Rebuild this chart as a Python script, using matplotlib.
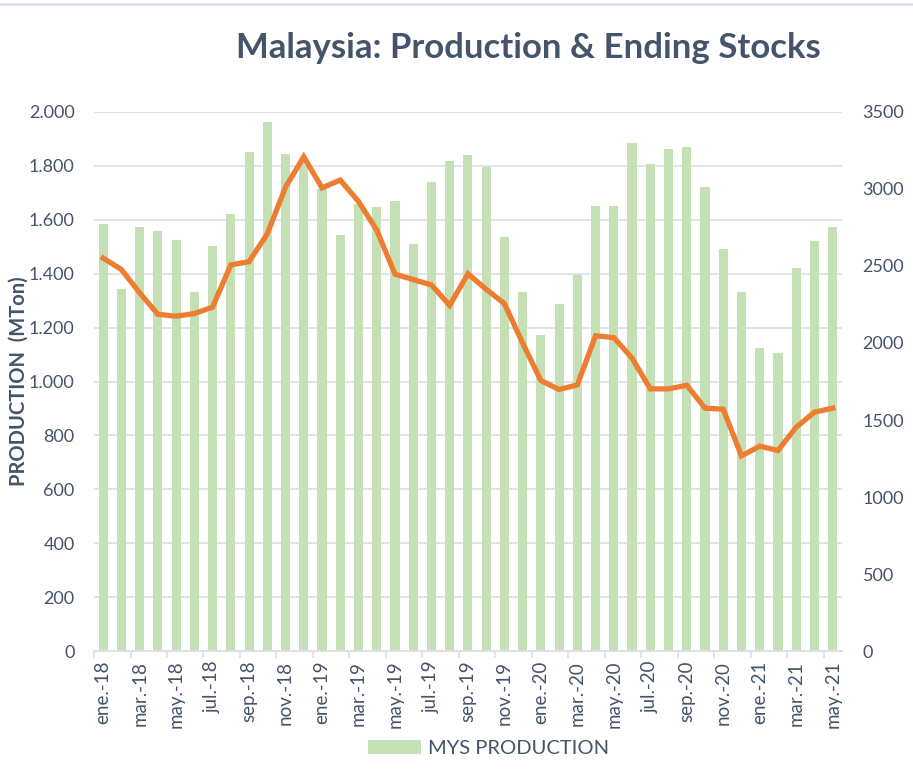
import matplotlib
matplotlib.use("Agg")
import matplotlib.pyplot as plt
from matplotlib.lines import Line2D
from matplotlib.ticker import FuncFormatter, FixedLocator

# months ene-18 .. may-21
MONTHS = ["ene", "feb", "mar", "abr", "may", "jun", "jul", "ago", "sep", "oct", "nov", "dic"]
labels = []
for yr in ["18", "19", "20", "21"]:
    for m in MONTHS:
        labels.append(f"{m}.-{yr}")
labels = labels[:41]

production = [1585, 1342, 1573, 1557, 1524, 1332, 1502, 1620, 1852, 1964,
              1843, 1815, 1715, 1543, 1660, 1647, 1668, 1510, 1740, 1819,
              1841, 1795, 1536, 1332, 1171, 1288, 1395, 1652, 1650, 1884,
              1807, 1863, 1870, 1722, 1490, 1332, 1126, 1104, 1422, 1522,
              1572]
ending_stocks = [2551, 2477, 2326, 2186, 2174, 2191, 2233, 2507, 2528, 2709,
                 3012, 3209, 3007, 3058, 2919, 2733, 2447, 2412, 2377, 2244,
                 2449, 2349, 2256, 2000, 1756, 1698, 1728, 2047, 2035, 1902,
                 1702, 1702, 1726, 1577, 1570, 1267, 1330, 1302, 1453, 1551,
                 1577]

TEXT = "#44546A"
GRID = "#DCE1E8"
plt.rcParams["font.family"] = ["Lato", "DejaVu Sans"]

fig = plt.figure(figsize=(9.13, 7.69), dpi=100)
ax = fig.add_axes([0.103, 0.1534, 0.819, 0.701])
ax2 = ax.twinx()

x = list(range(len(labels)))
bars = ax.bar(x, production, width=0.5, color="#C5E0B4", label="MYS PRODUCTION", zorder=2)
ax2.plot(x, ending_stocks, color="#ED7D31", lw=3.8, solid_joinstyle="miter", zorder=3)

ax.set_xlim(-0.5, len(labels) - 0.5)
ax.set_ylim(0, 2000)
ax2.set_ylim(0, 3500)
ax.set_yticks(range(0, 2001, 200))
ax2.set_yticks(range(0, 3501, 500))
ax.yaxis.set_major_formatter(FuncFormatter(lambda v, p: f"{int(v):,}".replace(",", ".")))
ax.grid(axis="y", color=GRID, lw=1.3, zorder=0)
ax.set_axisbelow(True)

ax.set_xticks(x[::2])
ax.set_xticklabels(labels[::2], rotation=90)
ax.xaxis.set_minor_locator(FixedLocator([i - 0.5 for i in range(0, len(labels) + 1, 2)]))
ax.tick_params(axis="x", which="major", length=0, pad=7, labelsize=13.5, labelcolor=TEXT)
ax.tick_params(axis="x", which="minor", length=5, color=GRID, width=1.3)
ax.tick_params(axis="y", length=0, pad=14, labelsize=13, labelcolor=TEXT)
ax2.tick_params(axis="y", length=0, pad=15, labelsize=13, labelcolor=TEXT)

for a in (ax, ax2):
    for s in ["top", "left", "right"]:
        a.spines[s].set_visible(False)
    a.spines["bottom"].set_color(GRID)
    a.spines["bottom"].set_linewidth(1.3)

ax.set_ylabel("PRODUCTION  (MTon)", fontsize=14.5, fontweight="bold", color=TEXT)
ax.yaxis.set_label_coords(-0.088, 0.5)
ax.set_zorder(ax2.get_zorder() - 1)
ax.patch.set_visible(False)

fig.text(0.5785, 0.937, "Malaysia: Production & Ending Stocks", ha="center", va="center",
         fontsize=25, fontweight="bold", color=TEXT)

fig.legend(handles=[bars], loc="center", bbox_to_anchor=(0.535, 0.027), frameon=False,
           fontsize=14.5, labelcolor=TEXT, handlelength=2.6, handleheight=0.7, handletextpad=0.35)

fig.add_artist(Line2D([0, 1], [0.995, 0.995], transform=fig.transFigure, color=GRID, lw=2))

fig.savefig("out.png", dpi=100)
